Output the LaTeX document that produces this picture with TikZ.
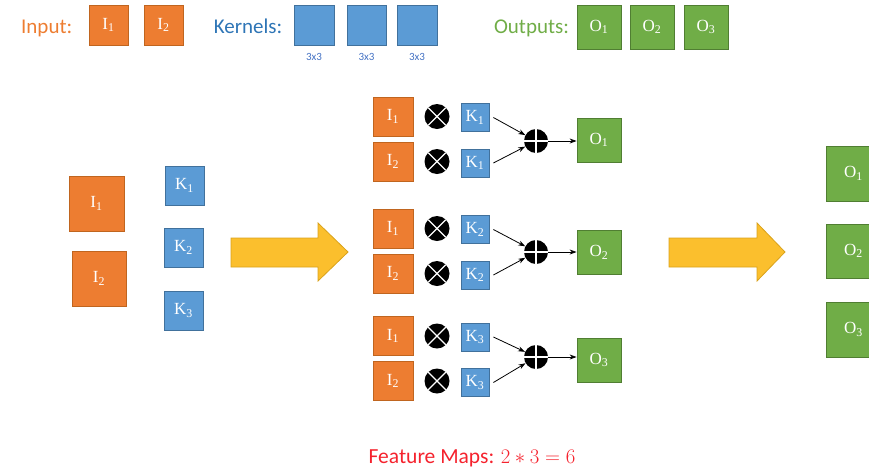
\documentclass[tikz,border=0pt]{standalone}
\usepackage{fontspec}
\setmainfont{Liberation Serif}
\newfontfamily\calib{Carlito}
\usetikzlibrary{arrows.meta}

\definecolor{inorange}{HTML}{ED7D31}
\definecolor{inorangeline}{HTML}{C0651F}
\definecolor{kblue}{HTML}{5B9BD5}
\definecolor{kblueline}{HTML}{41719C}
\definecolor{ogreen}{HTML}{70AD47}
\definecolor{ogreenline}{HTML}{507E32}
\definecolor{kbluetext}{HTML}{2E75B6}
\definecolor{smallblue}{HTML}{4472C4}
\definecolor{arrowfill}{HTML}{FBBF2D}
\definecolor{arrowline}{HTML}{D9A21B}
\definecolor{featred}{HTML}{F5222D}

\begin{document}
\begin{tikzpicture}[x=1pt,y=-1pt,
  box/.style={draw, line width=0.8pt, text=white, inner sep=0pt,
    font=\fontsize{17}{17}\selectfont},
  ibox/.style={box, fill=inorange, draw=inorangeline},
  kbox/.style={box, fill=kblue, draw=kblueline},
  obox/.style={box, fill=ogreen, draw=ogreenline},
  sz/.style 2 args={minimum width=#1, minimum height=#2},
  legend/.style={anchor=base, font=\calib\fontsize{21}{25}\selectfont},
  tinylabel/.style={anchor=base, text=smallblue, font=\calib\fontsize{11}{13}\selectfont},
  timesop/.style={circle, fill=black, minimum size=25, inner sep=0pt,
    path picture={\draw[white, line width=1.3pt]
      (path picture bounding box.north west) -- (path picture bounding box.south east)
      (path picture bounding box.north east) -- (path picture bounding box.south west);}},
  plusop/.style={circle, fill=black, minimum size=24, inner sep=0pt,
    path picture={\draw[white, line width=1.7pt]
      (path picture bounding box.north) -- (path picture bounding box.south)
      (path picture bounding box.west) -- (path picture bounding box.east);}},
  conn/.style={-{Stealth[length=7pt,width=5pt]}, line width=0.8pt},
  bigarrow/.style={fill=arrowfill, draw=arrowline, line width=0.8pt, line join=miter}
]
\clip (0,0) rectangle (869,472);

% ---- legend row ----
\node[legend, text=inorange] (lin) at (46.7,33) {Input:};
\node[ibox, sz={39}{40}] (ti1) at (108.5,25) {I\textsubscript{1}};
\node[ibox, sz={39}{40}] (ti2) at (163.5,25) {I\textsubscript{2}};

\node[legend, text=kbluetext] (lk) at (248,33) {Kernels:};
\node[kbox, sz={40}{40}] (tk1) at (314,25) {};
\node[kbox, sz={39}{40}] (tk2) at (366.5,25) {};
\node[kbox, sz={40}{40}] (tk3) at (417,25) {};
\node[tinylabel] (tl1) at (314,60) {3x3};
\node[tinylabel] (tl2) at (366.5,60) {3x3};
\node[tinylabel] (tl3) at (417,60) {3x3};

\node[legend, text=ogreen] (lo) at (531.5,33) {Outputs:};
\node[obox, sz={44}{44}] (to1) at (599,27) {O\textsubscript{1}};
\node[obox, sz={44}{44}] (to2) at (652,27) {O\textsubscript{2}};
\node[obox, sz={44}{44}] (to3) at (706,27) {O\textsubscript{3}};

% ---- inputs and kernels ----
\node[ibox, sz={55}{55}] (li1) at (96.5,203.5) {I\textsubscript{1}};
\node[ibox, sz={54}{55}] (li2) at (99,278.5) {I\textsubscript{2}};
\node[kbox, sz={39}{39}] (lk1) at (184.5,185.5) {K\textsubscript{1}};
\node[kbox, sz={39}{39}] (lk2) at (183.5,247.5) {K\textsubscript{2}};
\node[kbox, sz={39}{39}] (lk3) at (183.5,310.5) {K\textsubscript{3}};

% ---- block arrows ----
\draw[bigarrow] (231,238) -- (318,238) -- (318,223) -- (348,252) -- (318,281)
  -- (318,267) -- (231,267) -- cycle;
\draw[bigarrow] (669,238) -- (757,238) -- (757,223) -- (785,252) -- (757,281)
  -- (757,267) -- (669,267) -- cycle;

% ---- convolution groups, one per kernel ----
\foreach \g/\ya/\yb/\ka/\kb/\p/\o in
  {1/116.5/161.5/117.5/163/141/140,
   2/228.5/273.5/229.5/275/252/252.5,
   3/336/381/337/382.5/357/360}{
  \node[ibox, sz={40}{39}] (i\g a) at (393,\ya) {I\textsubscript{1}};
  \node[ibox, sz={40}{39}] (i\g b) at (393,\yb) {I\textsubscript{2}};
  \node[timesop] (x\g a) at (437,\ya) {};
  \node[timesop] (x\g b) at (437,\yb) {};
  \node[kbox, sz={28}{28}] (k\g a) at (475,\ka) {K\textsubscript{\g}};
  \node[kbox, sz={28}{28}] (k\g b) at (475,\kb) {K\textsubscript{\g}};
  \node[plusop] (s\g) at (536,\p) {};
  \node[obox, sz={44}{44}] (o\g) at (599,\o) {O\textsubscript{\g}};
  \draw[conn] ([xshift=4pt]k\g a.east) -- (s\g);
  \draw[conn] ([xshift=4pt]k\g b.east) -- (s\g);
  \draw[conn] (s\g) -- (o\g.west |- s\g);
}

% ---- resulting outputs ----
\node[obox, sz={55}{55}] (r1) at (853.5,173.5) {O\textsubscript{1}};
\node[obox, sz={55}{54}] (r2) at (853.5,251) {O\textsubscript{2}};
\node[obox, sz={55}{55}] (r3) at (853.5,329.5) {O\textsubscript{3}};

% ---- caption ----
\node[anchor=base, text=featred, font=\calib\fontsize{21.5}{25}\selectfont] (cap)
  at (472,463) {Feature Maps: $2\ast3=6$};
\end{tikzpicture}
\end{document}
